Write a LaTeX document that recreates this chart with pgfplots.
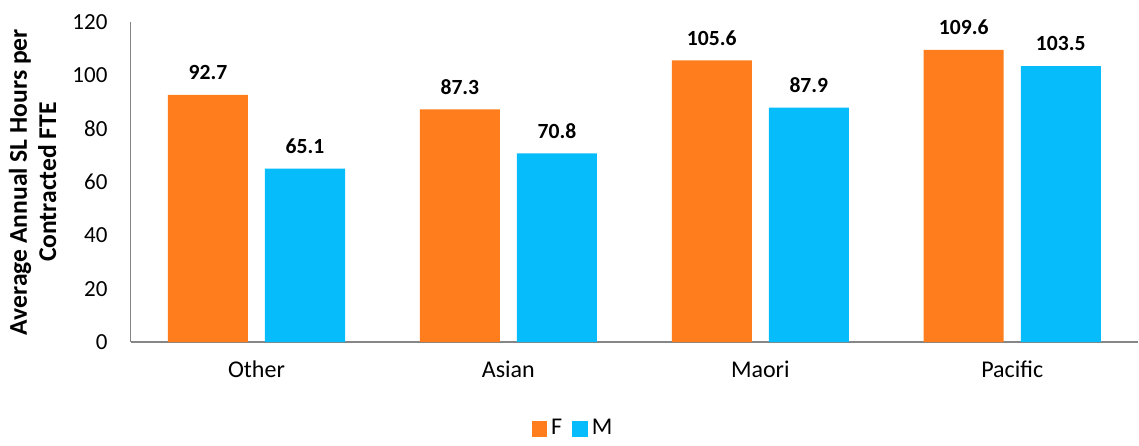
\documentclass[border=0pt]{standalone}
\usepackage{pgfplots}
\pgfplotsset{compat=1.18}
\usepackage{fontspec}
\setmainfont{Carlito}
\definecolor{barF}{RGB}{255,125,28}
\definecolor{barM}{RGB}{6,188,250}
\definecolor{axisgray}{RGB}{134,134,134}
\begin{document}
\begin{tikzpicture}
\begin{axis}[
  scale only axis,
  width=503.5pt, height=160pt,
  ybar=8.5pt, bar width=40pt,
  xmin=-0.5, xmax=3.5,
  ymin=0, ymax=120,
  xtick=data,
  xticklabels={Other,Asian,Maori,Pacific},
  ytick={0,20,...,120},
  major tick length=0pt,
  axis lines*=left,
  axis line style={axisgray, line width=0.8pt},
  separate axis lines,
  x axis line style={-},
  y axis line style={-},
  font=\fontsize{12pt}{14pt}\selectfont,
  /pgf/number format/assume math mode=true,
  yticklabel style={xshift=-8pt, font=\fontsize{11.5pt}{13pt}\selectfont},
  xticklabel style={yshift=-6pt},
  ylabel={\begin{tabular}{c}Average Annual SL Hours per\\Contracted FTE\end{tabular}},
  ylabel style={yshift=-3pt, font=\fontsize{12.8pt}{14.5pt}\selectfont\bfseries},
  nodes near coords,
  nodes near coords style={font=\fontsize{10.8pt}{13pt}\selectfont\bfseries, yshift=4pt,
    /pgf/number format/.cd, fixed, fixed zerofill, precision=1},
  legend style={at={(0.44,-0.27)}, anchor=center, draw=none,
    legend columns=-1, font=\fontsize{12pt}{14pt}\selectfont,
    /tikz/every even column/.append style={column sep=3pt}},
  legend image code/.code={\fill[#1] (0pt,-3.9pt) rectangle (7.8pt,3.9pt);},
  after end axis/.code={\path (rel axis cs:0,1) ++(0,11pt);},
]
\addplot[fill=barF, draw=none] coordinates {(0,92.7) (1,87.3) (2,105.6) (3,109.6)};
\addplot[fill=barM, draw=none] coordinates {(0,65.1) (1,70.8) (2,87.9) (3,103.5)};
\legend{F,M}
\end{axis}
\end{tikzpicture}
\end{document}
